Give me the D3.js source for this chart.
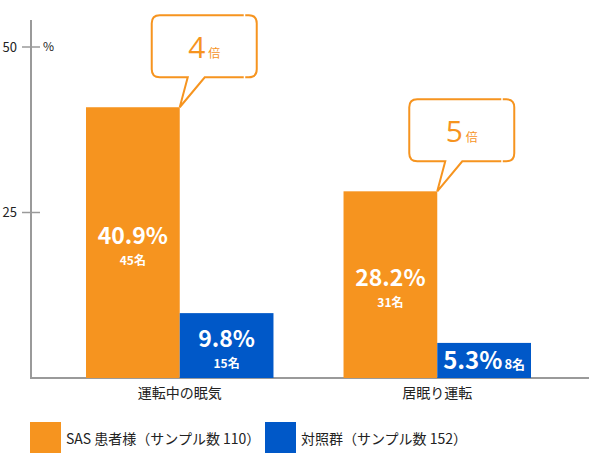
<!DOCTYPE html>
<html>
<head>
<meta charset="utf-8">
<script src="https://cdn.jsdelivr.net/npm/d3@7"></script>
<style>
  body { margin: 0; background: #fff; }
  text { font-family: "Noto Sans CJK JP", "Noto Sans", sans-serif; }
</style>
</head>
<body>
<div id="chart"></div>
<script>
// data
var categories = ["運転中の眠気", "居眠り運転"];
var seriesNames = ["SAS 患者様（サンプル数 110）", "対照群（サンプル数 152）"];
var sasValues = [40.9, 28.2];
var sasCounts = ["45名", "31名"];
var controlValues = [9.8, 5.3];
var controlCounts = ["15名", "8名"];
var ratioLabels = ["4", "5"];
var yTicks = [25, 50];
var colors = ["#F6941F", "#0058C8"];

var W = 589, H = 455;
var svg = d3.select("#chart").append("svg").attr("width", W).attr("height", H);

var x = d3.scaleBand().domain(categories).range([86, 531]).paddingInner(0.272).paddingOuter(0);
var xs = d3.scaleBand().domain([0, 1]).range([0, x.bandwidth()]);
var y = d3.scaleLinear().domain([0, 50]).range([378, 47]);

// axes lines
svg.append("line").attr("x1", 31).attr("x2", 31).attr("y1", 20).attr("y2", y(0) + 1)
  .attr("stroke", "#9a9a9a").attr("stroke-width", 2);
svg.append("line").attr("x1", 30).attr("x2", W).attr("y1", y(0)).attr("y2", y(0))
  .attr("stroke", "#9a9a9a").attr("stroke-width", 2);

var tick = svg.selectAll(".tick").data(yTicks).enter().append("g")
  .attr("transform", function(d){ return "translate(0," + y(d) + ")"; });
tick.append("line").attr("x1", 22).attr("x2", 40).attr("stroke", "#9a9a9a").attr("stroke-width", 1.5);
tick.append("text").attr("x", 17).attr("dy", "0.35em").attr("text-anchor", "end")
  .attr("font-size", 13).attr("fill", "#222").text(function(d){ return d; });
svg.append("text").attr("x", 43).attr("y", y(50)).attr("dy", "0.35em")
  .attr("font-size", 12).attr("fill", "#222").text("%");

// bars
var rows = categories.map(function(c, i){
  return [
    {cat: c, s: 0, v: sasValues[i], n: sasCounts[i]},
    {cat: c, s: 1, v: controlValues[i], n: controlCounts[i]}
  ];
});

var groups = svg.selectAll(".grp").data(rows).enter().append("g")
  .attr("transform", function(d){ return "translate(" + x(d[0].cat) + ",0)"; });

var bar = groups.selectAll(".bar").data(function(d){ return d; }).enter().append("g");
bar.append("rect")
  .attr("x", function(d){ return xs(d.s); })
  .attr("width", xs.bandwidth())
  .attr("y", function(d){ return y(d.v); })
  .attr("height", function(d){ return y(0) - y(d.v); })
  .attr("fill", function(d){ return colors[d.s]; });

// value labels
bar.each(function(d){
  var g = d3.select(this);
  var cx = xs(d.s) + xs.bandwidth() / 2;
  var mid = (y(d.v) + y(0)) / 2;
  if (d.v < 8) {
    var t = g.append("text").attr("x", cx).attr("y", mid + 9).attr("text-anchor", "middle")
      .attr("fill", "#fff").attr("font-weight", "bold");
    t.append("tspan").attr("font-size", 24).text(d.v + "%");
    t.append("tspan").attr("font-size", 13).attr("dx", 2).text(d.n);
  } else {
    g.append("text").attr("x", cx).attr("y", mid + 1).attr("text-anchor", "middle")
      .attr("fill", "#fff").attr("font-weight", "bold").attr("font-size", 23).text(d.v + "%");
    g.append("text").attr("x", cx).attr("y", mid + 22).attr("text-anchor", "middle")
      .attr("fill", "#fff").attr("font-weight", "bold").attr("font-size", 12).text(d.n);
  }
});

// category labels
svg.selectAll(".cat").data(categories).enter().append("text")
  .attr("x", function(d){ return x(d) + x.bandwidth() / 2; })
  .attr("y", y(0) + 20).attr("text-anchor", "middle")
  .attr("font-size", 14).attr("fill", "#222").text(function(d){ return d; });

// callouts
var bw = 105, bh = 62, r = 8;
categories.forEach(function(c, i){
  var tx = x(c) + xs.bandwidth(), ty = y(sasValues[i]);
  var x0 = tx - 28, x1 = x0 + bw, y1 = ty - 30, y0 = y1 - bh;
  var p = "M" + (x0 + r) + "," + y0 +
    "L" + (x1 - r) + "," + y0 + "Q" + x1 + "," + y0 + " " + x1 + "," + (y0 + r) +
    "L" + x1 + "," + (y1 - r) + "Q" + x1 + "," + y1 + " " + (x1 - r) + "," + y1 +
    "L" + (tx + 25) + "," + y1 + "L" + tx + "," + ty + "L" + (tx + 8) + "," + y1 +
    "L" + (x0 + r) + "," + y1 + "Q" + x0 + "," + y1 + " " + x0 + "," + (y1 - r) +
    "L" + x0 + "," + (y0 + r) + "Q" + x0 + "," + y0 + " " + (x0 + r) + "," + y0 + "Z";
  svg.append("path").attr("d", p).attr("fill", "#fff").attr("stroke", colors[0]).attr("stroke-width", 2);
  // small gaps in the frame
  svg.append("rect").attr("x", x0 + 92).attr("y", y0 - 2).attr("width", 1.5).attr("height", 4).attr("fill", "#fff");
  svg.append("rect").attr("x", x0 + 92).attr("y", y1 - 2).attr("width", 1.5).attr("height", 4).attr("fill", "#fff");
  var t = svg.append("text").attr("x", x0 + bw / 2).attr("y", y0 + 43)
    .attr("text-anchor", "middle").attr("fill", colors[0]);
  t.append("tspan").attr("font-size", 30).attr("font-family", "'Open Sans', sans-serif").attr("font-weight", 400).text(ratioLabels[i]);
  t.append("tspan").attr("font-size", 12).attr("dx", 3).text("倍");
});

// legend
var leg = svg.selectAll(".leg").data(seriesNames).enter().append("g")
  .attr("transform", function(d, i){ return "translate(" + (30 + i * 235) + ",422)"; });
leg.append("rect").attr("width", 31).attr("height", 31).attr("fill", function(d, i){ return colors[i]; });
leg.append("text").attr("x", 36).attr("y", 22).attr("font-size", 14).attr("fill", "#222")
  .text(function(d){ return d; });
</script>
</body>
</html>
